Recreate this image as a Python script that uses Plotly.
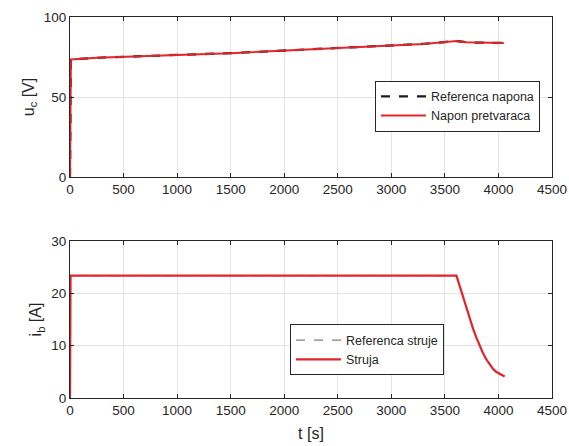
import plotly.graph_objects as go
from plotly.subplots import make_subplots

# ---- data ----
t_u = [0, 8, 250, 500, 1000, 1500, 2000, 2500, 3000, 3300, 3610, 3700, 3800, 4050]
u_c = [0, 73.5, 74.5, 75.2, 76.3, 77.4, 79.0, 80.7, 82.2, 83.2, 85.0, 84.2, 84.0, 83.8]
u_ref = [0, 73.5, 74.5, 75.2, 76.3, 77.4, 79.0, 80.7, 82.2, 83.2, 85.0, 84.2, 84.0, 83.8]

t_i = [0, 5, 3608, 3639, 3670, 3701, 3731, 3762, 3793, 3824, 3855, 3886, 3917, 3948, 3978, 4009, 4058]
i_b = [0, 23.4, 23.4, 21.4, 19.2, 17.0, 15.2, 13.3, 11.6, 10.0, 8.6, 7.4, 6.5, 5.6, 5.0, 4.6, 4.1]
i_ref = [0, 23.4, 23.4, 21.4, 19.2, 17.0, 15.2, 13.3, 11.6, 10.0, 8.6, 7.4, 6.5, 5.6, 5.0, 4.6, 4.1]

x_ticks = [0, 500, 1000, 1500, 2000, 2500, 3000, 3500, 4000, 4500]

RED = "#e3242b"
AX = "#262626"
GRID = "#e3e3e3"
FONT = "Liberation Sans, Arial, sans-serif"

fig = make_subplots(rows=2, cols=1, vertical_spacing=0.168)

fig.add_trace(go.Scatter(x=t_u, y=u_ref, mode="lines", name="Referenca napona",
                         line=dict(color="#1a1a1a", width=2.3, dash="dash"),
                         legend="legend"), row=1, col=1)
fig.add_trace(go.Scatter(x=t_u, y=u_c, mode="lines", name="Napon pretvaraca",
                         line=dict(color=RED, width=2),
                         legend="legend"), row=1, col=1)
fig.add_trace(go.Scatter(x=t_i, y=i_ref, mode="lines", name="Referenca struje",
                         line=dict(color="#7f7f7f", width=1.2, dash="dash"),
                         legend="legend2"), row=2, col=1)
fig.add_trace(go.Scatter(x=t_i, y=i_b, mode="lines", name="Struja",
                         line=dict(color=RED, width=2.2),
                         legend="legend2"), row=2, col=1)

axis_common = dict(
    range=[0, 4500], tickvals=x_ticks, ticks="inside", ticklen=4, tickcolor=AX,
    showline=True, linecolor=AX, linewidth=1, mirror="ticks",
    showgrid=True, gridcolor=GRID, gridwidth=1, zeroline=False, automargin=False,
    tickfont=dict(family=FONT, size=13.5, color=AX),
)
fig.update_xaxes(**axis_common)
fig.update_xaxes(title=dict(text="t [s]", font=dict(family=FONT, size=16, color=AX), standoff=10),
                 row=2, col=1)

yax = dict(ticks="inside", ticklen=4, tickcolor=AX, showline=True, linecolor=AX,
           linewidth=1, mirror="ticks", showgrid=True, gridcolor=GRID, zeroline=False,
           automargin=False, tickfont=dict(family=FONT, size=13.5, color=AX))
fig.update_yaxes(**yax)
fig.update_yaxes(range=[0, 100], tickvals=[0, 50, 100],
                 title=dict(text="u<sub>c</sub> [V]", font=dict(family=FONT, size=16, color=AX),
                            standoff=5),
                 row=1, col=1)
fig.update_yaxes(range=[0, 30], tickvals=[0, 10, 20, 30],
                 title=dict(text="i<sub>b</sub> [A]", font=dict(family=FONT, size=16, color=AX),
                            standoff=5),
                 row=2, col=1)

fig.update_layout(
    width=569, height=446,
    margin=dict(l=70, r=17, t=17, b=48),
    paper_bgcolor="white", plot_bgcolor="white",
    font=dict(family=FONT, color=AX),
    showlegend=True,
    legend=dict(x=0.975, y=0.766, xanchor="right", yanchor="middle",
                bgcolor="white", bordercolor=AX, borderwidth=1,
                font=dict(family=FONT, size=12.5, color=AX), itemwidth=45,
                tracegroupgap=0),
    legend2=dict(x=0.776, y=0.126, xanchor="right", yanchor="middle",
                 bgcolor="white", bordercolor=AX, borderwidth=1,
                 font=dict(family=FONT, size=12.5, color=AX), itemwidth=45,
                 tracegroupgap=0),
)
fig.update_layout(yaxis=dict(domain=[0.58, 1.0]), yaxis2=dict(domain=[0.0, 0.412]))

fig.write_html("out.html", config={"displayModeBar": False},
               post_script="document.body.style.margin='0';document.body.style.overflow='hidden';")
